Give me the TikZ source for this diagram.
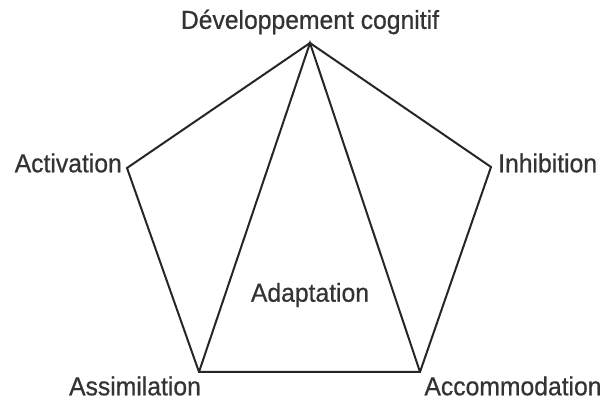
\documentclass[tikz,border=0pt]{standalone}
\usepackage{fontspec}
\setmainfont{Liberation Sans}[FakeStretch=0.95, FakeBold=0.6]
\begin{document}
\begin{tikzpicture}[x=1pt,y=1pt,
  edge/.style={line width=2pt, draw=black!85, line join=miter},
  lbl/.style={font=\fontsize{26}{30}\selectfont, text=black!80, inner sep=0pt}]
\useasboundingbox (0,0) rectangle (608,403);
\coordinate (T) at (310,360);
\coordinate (L) at (127,235);
\coordinate (R) at (491,236);
\coordinate (BL) at (199,31);
\coordinate (BR) at (420,31);
\draw[edge] (T) -- (R) -- (BR) -- (BL) -- (L) -- cycle;
\draw[edge] (BL) -- (T) -- (BR);
\node[lbl] (dev) at (310,381) {Développement cognitif};
\node[lbl, anchor=east] (act) at (122,240) {Activation};
\node[lbl, anchor=west] (inh) at (498,240) {Inhibition};
\node[lbl] (ass) at (135,17) {Assimilation};
\node[lbl] (acc) at (513,17) {Accommodation};
\node[lbl] (ada) at (310,108) {Adaptation};
\end{tikzpicture}
\end{document}
